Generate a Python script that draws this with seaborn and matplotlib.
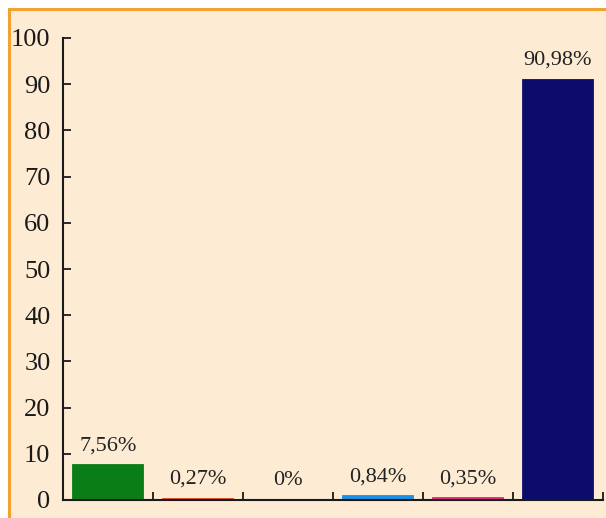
import matplotlib
matplotlib.use("Agg")
import matplotlib.pyplot as plt
import seaborn as sns
from matplotlib.patches import Rectangle

# datos
categorias = ["c1", "c2", "c3", "c4", "c5", "c6"]
valores = [7.56, 0.27, 0.0, 0.84, 0.35, 90.98]
etiquetas = ["7,56%", "0,27%", "0%", "0,84%", "0,35%", "90,98%"]
colores = ["#0b7d16", "#e0481e", "#1a1a1a", "#1c8fe6", "#e3247e", "#0c0c6b"]
yticks = [0, 10, 20, 30, 40, 50, 60, 70, 80, 90, 100]

sns.set_style("white")
plt.rcParams["font.family"] = ["Liberation Serif", "DejaVu Serif"]

fig = plt.figure(figsize=(6.06, 5.18), dpi=100)
fig.patch.set_facecolor("white")
# fondo melocoton con borde naranja (arriba e izquierda)
fondo = Rectangle((9 / 606, -0.1), 1.2, 1.1 - 9.5 / 518, transform=fig.transFigure,
                  facecolor="#fdebd4", edgecolor="#f2a22e", lw=2.2, zorder=-1)
fig.patches.append(fondo)

ax = fig.add_axes([63 / 606, 1 - 500 / 518, 540 / 606, 462 / 518])
ax.set_facecolor("none")

sns.barplot(x=categorias, y=valores, hue=categorias, palette=colores,
            legend=False, width=0.78, saturation=1, ax=ax)
# las barras finas se ven algo mas gruesas en el original
for p in ax.patches:
    p.set_edgecolor(p.get_facecolor())
    p.set_linewidth(1.3)

for i, (v, t) in enumerate(zip(valores, etiquetas)):
    ax.annotate(t, (i, v), xytext=(0, 7), textcoords="offset points",
                ha="center", va="bottom", fontsize=16, color="#222222")

ax.set_xlim(-0.5, 5.5)
ax.set_ylim(0, 100)
ax.set_yticks(yticks)
ax.set_yticklabels([str(y) for y in yticks], fontsize=19, color="#1a1a1a")
ax.set_xticks([0.5, 1.5, 2.5, 3.5, 4.5, 5.5])
ax.set_xticklabels([])
ax.set_xlabel("")
ax.set_ylabel("")
ax.tick_params(axis="both", direction="in", length=6, width=1.3, color="#1a1a1a",
               left=True, bottom=True)
ax.tick_params(axis="y", pad=9)

for lado in ["top", "right"]:
    ax.spines[lado].set_visible(False)
for lado in ["left", "bottom"]:
    ax.spines[lado].set_linewidth(1.5)
    ax.spines[lado].set_color("#1a1a1a")

plt.savefig("out.png", dpi=100)
